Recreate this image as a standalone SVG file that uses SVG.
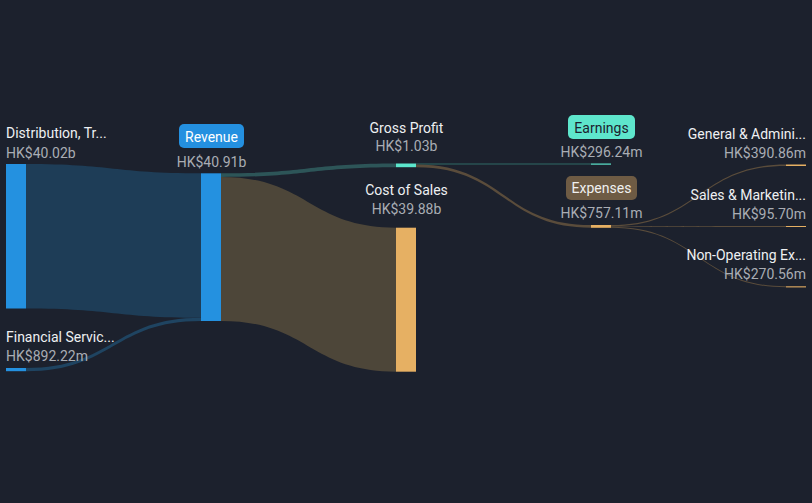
<svg xmlns="http://www.w3.org/2000/svg" width="812" height="503" viewBox="0 0 812 503">
<style>
text{font-family:Roboto,"Liberation Sans",sans-serif;font-size:14px}
.lb{fill:#eef0f2}
.vl{fill:#a9adb4}
.m{text-anchor:middle}
.e{text-anchor:end}
.blue{fill:#2491e0}
.teal{fill:#5ce6cc}
.gold{fill:#e6b063}
</style>
<rect width="812" height="503" fill="#1c212d"/>
<g id="links">
<path d="M26 164 C113.5 164 113.5 173.3 201 173.3 L201 317.8 C113.5 317.8 113.5 308.5 26 308.5 Z" fill="#1e3d57"/>
<path d="M26 368 C113.5 368 113.5 317.8 201 317.8 L201 321 C113.5 321 113.5 371.2 26 371.2 Z" fill="#1f4461"/>
<path d="M221 173.3 C308.5 173.3 308.5 163.5 396 163.5 L396 167.2 C308.5 167.2 308.5 177 221 177 Z" fill="#2d5558"/>
<path d="M221 177 C308.5 177 308.5 227.7 396 227.7 L396 371.7 C308.5 371.7 308.5 321 221 321 Z" fill="#4d4639"/>
<path d="M416 163.5 C503.5 163.5 503.5 163.5 591 163.5 L591 164.6 C503.5 164.6 503.5 164.6 416 164.6 Z" fill="#2f6b66"/>
<path d="M416 164.6 C503.5 164.6 503.5 225 591 225 L591 227.7 C503.5 227.7 503.5 167.2 416 167.2 Z" fill="#5a4c3b"/>
<path d="M611 225 C698.5 225 698.5 164.5 786 164.5 L786 165.9 C698.5 165.9 698.5 226.4 611 226.4 Z" fill="#5a4c3b"/>
<path d="M611 226.4 C698.5 226.4 698.5 226 786 226 L786 226.9 C698.5 226.9 698.5 227.1 611 227.1 Z" fill="#5a4c3b"/>
<path d="M611 226.8 C698.5 226.8 698.5 286.3 786 286.3 L786 287.3 C698.5 287.3 698.5 227.7 611 227.7 Z" fill="#5a4c3b"/>
</g>
<g id="distribution">
<rect class="blue" x="6" y="164" width="20" height="144.5"/>
<text class="lb" x="6" y="138">Distribution, Tr...</text>
<text class="vl" x="6" y="157.5">HK$40.02b</text>
</g>
<g id="financial">
<rect class="blue" x="6" y="368" width="20" height="3.2"/>
<text class="lb" x="6" y="342">Financial Servic...</text>
<text class="vl" x="6" y="361">HK$892.22m</text>
</g>
<g id="revenue">
<rect class="blue" x="201" y="173.3" width="20" height="147.7"/>
<rect x="179" y="124" width="65" height="24" rx="5" fill="#2490e0"/>
<text class="m" x="211.5" y="141.5" fill="#ffffff">Revenue</text>
<text class="vl m" x="211.5" y="167">HK$40.91b</text>
</g>
<g id="gross-profit">
<rect class="teal" x="396" y="163.5" width="20" height="3.7"/>
<text class="lb m" x="406.5" y="132.5">Gross Profit</text>
<text class="vl m" x="406.5" y="151">HK$1.03b</text>
</g>
<g id="cost-of-sales">
<rect class="gold" x="396" y="227.7" width="20" height="144"/>
<text class="lb m" x="406.5" y="195">Cost of Sales</text>
<text class="vl m" x="406.5" y="214">HK$39.88b</text>
</g>
<g id="earnings">
<rect class="teal" x="591" y="163.5" width="20" height="1.2"/>
<rect x="568" y="115" width="67" height="24" rx="5" fill="#5ee6cc"/>
<text class="m" x="601.5" y="132.5" fill="#1c212d">Earnings</text>
<text class="vl m" x="601.5" y="157">HK$296.24m</text>
</g>
<g id="expenses">
<rect class="gold" x="591" y="225" width="20" height="2.8"/>
<rect x="566" y="176" width="71" height="24" rx="5" fill="#6e5b44"/>
<text class="m" x="601.5" y="192.5" fill="#f0f0f0">Expenses</text>
<text class="vl m" x="601.5" y="217.5">HK$757.11m</text>
</g>
<g id="general-admin">
<rect class="gold" x="786" y="164.5" width="20" height="1.5"/>
<text class="lb e" x="806" y="138.5">General &amp; Admini...</text>
<text class="vl e" x="806" y="158">HK$390.86m</text>
</g>
<g id="sales-marketing">
<rect class="gold" x="786" y="226" width="20" height="1"/>
<text class="lb e" x="806" y="200">Sales &amp; Marketin...</text>
<text class="vl e" x="806" y="219">HK$95.70m</text>
</g>
<g id="non-operating">
<rect class="gold" x="786" y="286.3" width="20" height="1.1"/>
<text class="lb e" x="806" y="260">Non-Operating Ex...</text>
<text class="vl e" x="806" y="279">HK$270.56m</text>
</g>
</svg>
